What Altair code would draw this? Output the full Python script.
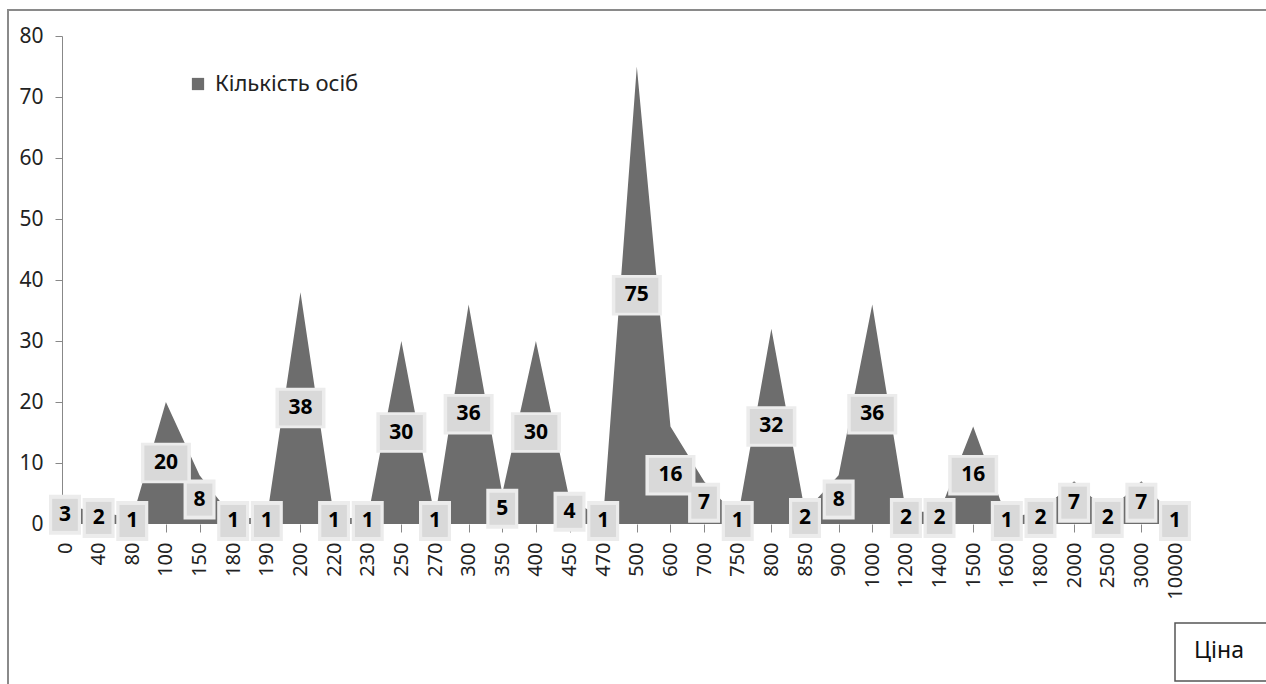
import altair as alt
import pandas as pd

categories = ["0", "40", "80", "100", "150", "180", "190", "200", "220", "230", "250",
              "270", "300", "350", "400", "450", "470", "500", "600", "700", "750",
              "800", "850", "900", "1000", "1200", "1400", "1500", "1600", "1800",
              "2000", "2500", "3000", "10000"]
counts = [3, 2, 1, 20, 8, 1, 1, 38, 1, 1, 30, 1, 36, 5, 30, 4, 1, 75, 16, 7, 1,
          32, 2, 8, 36, 2, 2, 16, 1, 2, 7, 2, 7, 1]
series_name = "Кількість осіб"
axis_title = "Ціна"
y_ticks = [0, 10, 20, 30, 40, 50, 60, 70, 80]

df = pd.DataFrame({"cat": categories, "value": counts})
df["half"] = df["value"] / 2
df["series"] = series_name
df["wide"] = df["value"] >= 10

FONT = "Noto Sans"
W, H = 1110, 488

x_enc = alt.X("cat:O", sort=categories,
              scale=alt.Scale(type="point", padding=0),
              axis=alt.Axis(title=None, labelAngle=270, labelFontSize=20, labelFont=FONT,
                            labelColor="#222", domain=False, ticks=True, tickSize=8,
                            tickColor="#888", labelPadding=10))
y_scale = alt.Scale(domain=[0, 80], nice=False)

area = alt.Chart(df).mark_area(interpolate="linear", color="#6d6d6d").encode(
    x=x_enc,
    y=alt.Y("value:Q", scale=y_scale,
            axis=alt.Axis(title=None, values=y_ticks, labelFontSize=21, labelFont=FONT,
                          labelColor="#222", grid=False, domainColor="#888", tickColor="#888",
                          tickSize=7, offset=3, labelPadding=12)),
    color=alt.Color("series:N", scale=alt.Scale(range=["#6d6d6d"]),
                    legend=alt.Legend(title=None, orient="none", legendX=122, legendY=37,
                                      symbolType="square", symbolSize=150,
                                      labelFontSize=22, labelFont=FONT, labelColor="#222",
                                      symbolStrokeWidth=0, labelOffset=6))
)

wide_path = "M-1,-0.81H1V0.81H-1Z"
narrow_path = "M-0.8,-1H0.8V1H-0.8Z"

def box(filter_expr, path, color, size):
    return alt.Chart(df).transform_filter(filter_expr).mark_point(
        shape=path, filled=True, color=color, opacity=1, size=size).encode(
        x=alt.X("cat:O", sort=categories), y=alt.Y("half:Q", scale=y_scale))

glow_wide = box("datum.wide", wide_path, "#ececec", 50 * 50)
glow_narrow = box("!datum.wide", narrow_path, "#ececec", 40 * 40)
box_wide = box("datum.wide", wide_path, "#d9d9d9", 43 * 43)
box_narrow = box("!datum.wide", narrow_path, "#d9d9d9", 32 * 32)

labels = alt.Chart(df).mark_text(font=FONT, fontSize=21, fontWeight="bold",
                                 color="#000", baseline="middle", align="center").encode(
    x=alt.X("cat:O", sort=categories), y=alt.Y("half:Q", scale=y_scale),
    text="value:Q")

one = pd.DataFrame({"t": [axis_title]})
frame = alt.Chart(one).mark_rect(fillOpacity=0, stroke="#8a8a8a", strokeWidth=2).encode(
    x=alt.value(-57), x2=alt.value(1260), y=alt.value(-26), y2=alt.value(700))
title_box = alt.Chart(one).mark_rect(fill="white", stroke="#555", strokeWidth=1.5).encode(
    x=alt.value(1110), x2=alt.value(1215), y=alt.value(587), y2=alt.value(645))
title_text = alt.Chart(one).mark_text(font=FONT, fontSize=23, color="#111",
                                      align="center", baseline="middle").encode(
    x=alt.value(1154), y=alt.value(615), text="t:N")

chart = alt.layer(frame, area, glow_wide, glow_narrow, box_wide, box_narrow, labels,
                  title_box, title_text).properties(
    width=W, height=H,
    padding={"left": 65, "top": 36, "right": 91, "bottom": 160},
    autosize=alt.AutoSizeParams(type="none"),
    background="white",
).configure_view(stroke=None)

chart.save("out.html", embed_options={"renderer": "svg", "actions": False})
